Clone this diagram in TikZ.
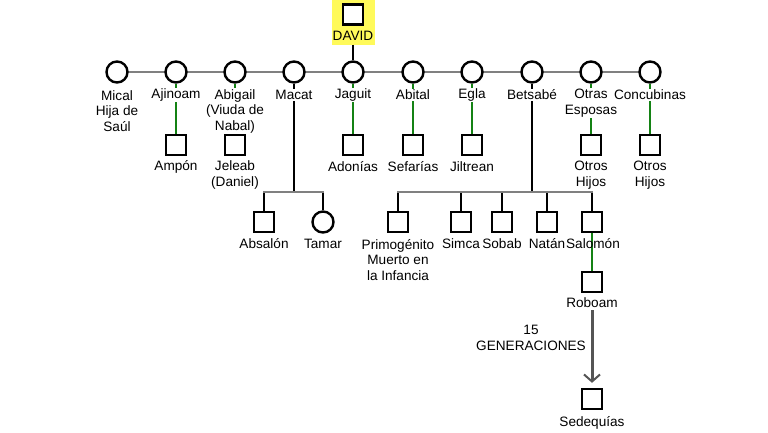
\documentclass[tikz,border=0pt]{standalone}
\usepackage{fontspec}
\setmainfont{Liberation Sans}
\usetikzlibrary{arrows.meta}
\definecolor{grn}{RGB}{20,130,20}
\definecolor{lgray}{RGB}{128,128,128}
\definecolor{agray}{RGB}{85,85,85}
\definecolor{hyellow}{RGB}{255,250,90}
\begin{document}
\begin{tikzpicture}[x=1pt,y=-1pt,
 fem/.style={circle,draw,line width=2.4pt,minimum size=21pt,inner sep=0pt,fill=white},
 mal/.style={rectangle,draw,line width=2.4pt,minimum size=20pt,inner sep=0pt,fill=white},
 lbl/.style={font=\fontsize{13.6}{15.5}\selectfont,align=center,fill=white,inner sep=1pt},
 marr/.style={draw=lgray,line width=2.8pt},
 kid/.style={draw=grn,line width=2.4pt},
 blk/.style={draw=black,line width=2.4pt}]
\fill[white] (0,0) rectangle (768,432);
\useasboundingbox (0,0) rectangle (768,432);
% David
\fill[hyellow] (332,0) rectangle (375,45);
\node[mal] (david) at (353,14.5) {};
\node[lbl,fill=none] (davidlbl) at (353,36) {DAVID};
% wives
\coordinate (wl) at (117,72);
\coordinate (wr) at (650,72);
\draw[marr] (wl) -- (wr);
\node[fem] (mical) at (117,72) {};
\node[fem] (ajinoam) at (176,72) {};
\node[fem] (abigail) at (235,72) {};
\node[fem] (macat) at (294,72) {};
\node[fem] (jaguit) at (353,72) {};
\node[fem] (abital) at (413,72) {};
\node[fem] (egla) at (472,72) {};
\node[fem] (betsabe) at (532,72) {};
\node[fem] (otras) at (591,72) {};
\node[fem] (concub) at (650,72) {};
\draw[blk] (davidlbl.south) ++(0,3) coordinate (dl) (dl) -- (jaguit.north);
% children of individual wives
\node[mal] (ampon) at (176,145) {};
\node[mal] (jeleab) at (235,145) {};
\node[mal] (adonias) at (353,145) {};
\node[mal] (sefarias) at (413,145) {};
\node[mal] (jiltrean) at (472,145) {};
\node[mal] (otroshA) at (591,145) {};
\node[mal] (otroshB) at (650,145) {};
\foreach \w/\c in {ajinoam/ampon,abigail/jeleab,jaguit/adonias,abital/sefarias,egla/jiltrean,otras/otroshA,concub/otroshB}
  \draw[kid] (\w.south) -- (\c.north);
% Macat children
\coordinate (macbar) at (294,192);
\coordinate (macL) at (264,192);
\coordinate (macR) at (323,192);
\node[mal] (absalon) at (264,222) {};
\node[fem] (tamar) at (323,222) {};
\draw[blk] (macat.south) -- (macbar);
\draw[blk] (absalon.north) -- (absalon.north |- macL);
\draw[blk] (tamar.north) -- (tamar.north |- macR);
\draw[marr,line cap=rect] (macL) -- (macR);
% Betsabe children
\coordinate (betbar) at (532,192);
\coordinate (betL) at (398,192);
\coordinate (betR) at (592,192);
\node[mal] (primo) at (398,222) {};
\node[mal] (simca) at (461,222) {};
\node[mal] (sobab) at (502,222) {};
\node[mal] (natan) at (547,222) {};
\node[mal] (salomon) at (592,222) {};
\draw[blk] (betsabe.south) -- (betbar);
\foreach \c in {primo,simca,sobab,natan,salomon}
  \draw[blk] (\c.north) -- (\c.north |- betL);
\draw[marr,line cap=rect] (betL) -- (betR);
% Roboam line
\node[mal] (roboam) at (592,282) {};
\draw[kid] (salomon.south) -- (roboam.north);
\node[mal] (sedequias) at (592,399) {};
% labels
\node[lbl] at (117,111) {Mical\\Hija de\\Saúl};
\node[lbl] at (176,95) {Ajinoam};
\node[lbl] at (235,111) {Abigail\\(Viuda de\\Nabal)};
\node[lbl] at (294,95) {Macat};
\node[lbl] at (353,95) {Jaguit};
\node[lbl] at (413,95) {Abital};
\node[lbl] at (472,95) {Egla};
\node[lbl] at (532,95) {Betsabé};
\node[lbl] at (591,103) {Otras\\Esposas};
\node[lbl] at (650,95) {Concubinas};
\node[lbl] at (176,167) {Ampón};
\node[lbl] at (235,175) {Jeleab\\(Daniel)};
\node[lbl] at (353,167) {Adonías};
\node[lbl] at (413,167) {Sefarías};
\node[lbl] at (472,167) {Jiltrean};
\node[lbl] at (591,175) {Otros\\Hijos};
\node[lbl] at (650,175) {Otros\\Hijos};
\node[lbl] at (264,244) {Absalón};
\node[lbl] at (323,244) {Tamar};
\node[lbl] at (398,260) {Primogénito\\Muerto en\\la Infancia};
\node[lbl] at (461,244) {Simca};
\node[lbl] at (502,244) {Sobab};
\node[lbl] at (547,244) {Natán};
\node[lbl,fill=none] at (593,244) {Salomón};
\node[lbl] (roboamlbl) at (592,303) {Roboam};
\node[lbl] at (592,423) {Sedequías};
\node[lbl] at (531,338) {15\\GENERACIONES};
\draw[draw=agray,line width=3pt,shorten <=1pt,shorten >=5pt,-{Straight Barb[length=7pt,width=16pt,line width=2pt]}] (roboamlbl.south) -- (sedequias.north);
\end{tikzpicture}
\end{document}
